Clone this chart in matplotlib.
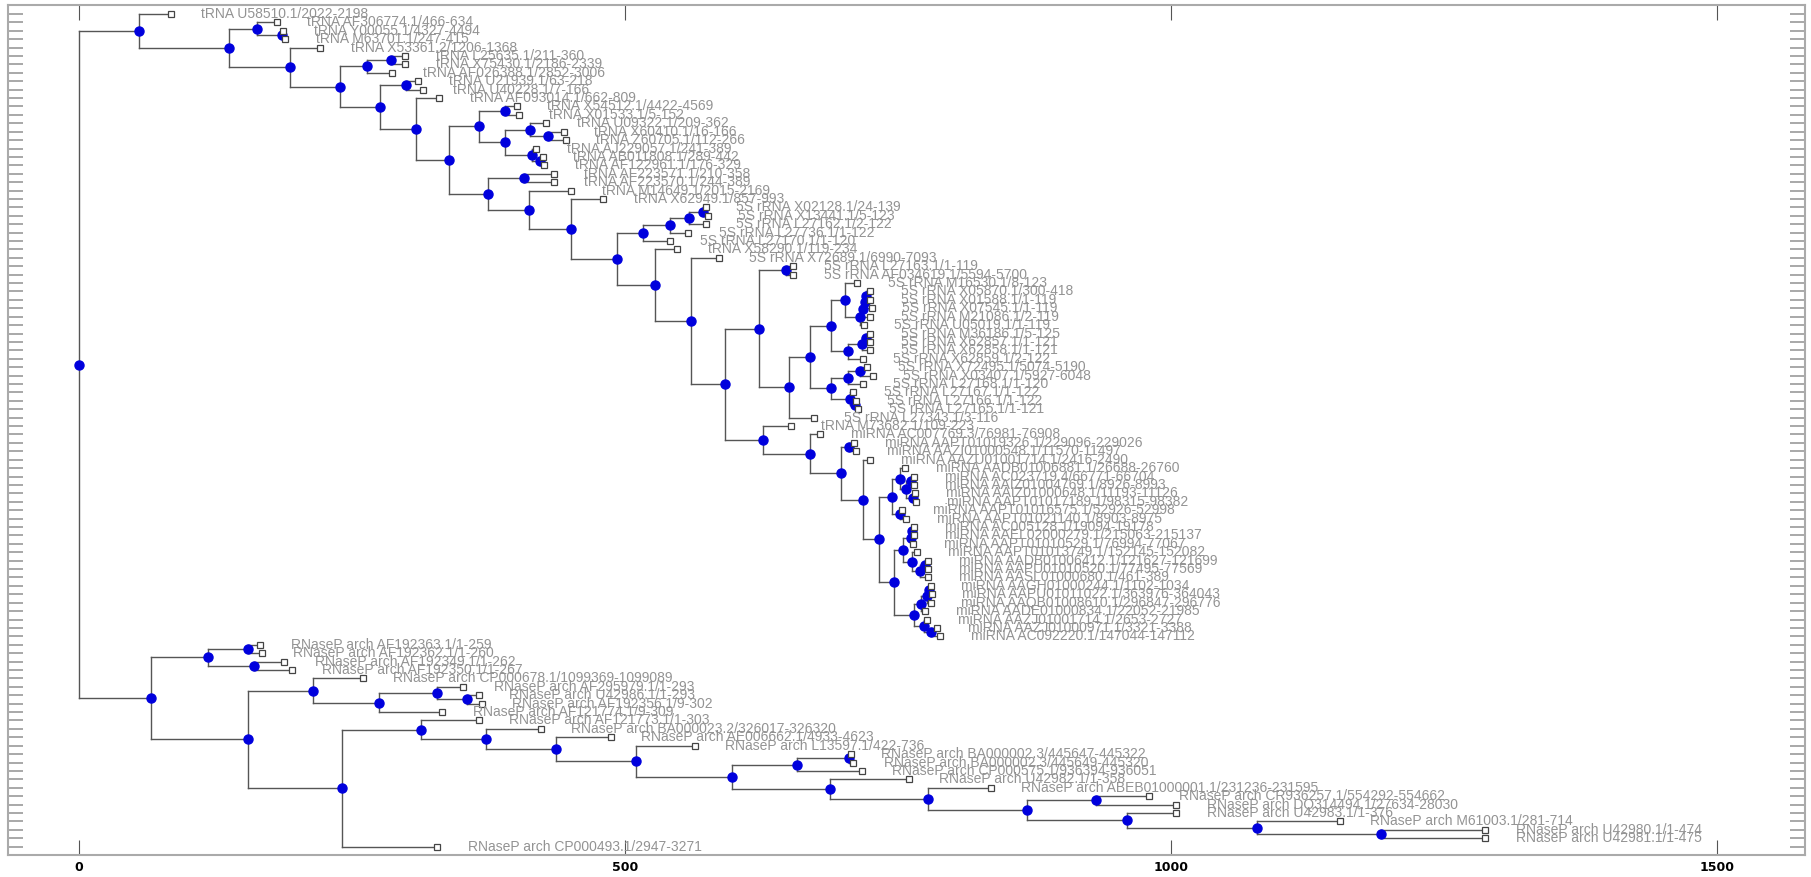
import matplotlib.pyplot as plt

# tips of the tree, top to bottom
leaf_names = [
    "tRNA U58510.1/2022-2198", "tRNA AF306774.1/466-634", "tRNA Y00055.1/4327-4494",
    "tRNA M63701.1/247-415", "tRNA X53361.2/1206-1368", "tRNA L25635.1/211-360",
    "tRNA X75430.1/2186-2339", "tRNA AF026388.1/2852-3006", "tRNA U21939.1/63-218",
    "tRNA U40228.1/7-166", "tRNA AF093014.1/662-809", "tRNA X54512.1/4422-4569",
    "tRNA X01533.1/5-152", "tRNA U09322.1/209-362", "tRNA X60410.1/16-166",
    "tRNA Z60705.1/112-266", "tRNA AJ229057.1/241-389", "tRNA AB011808.1/289-442",
    "tRNA AF122961.1/176-329", "tRNA AF223571.1/210-358", "tRNA AF223570.1/244-389",
    "tRNA M14649.1/2015-2169", "tRNA X62949.1/857-993",
    "5S rRNA X02128.1/24-139", "5S rRNA X13441.1/5-123", "5S rRNA L27162.1/2-122",
    "5S rRNA L27736.1/1-122", "5S rRNA L27170.1/1-120", "tRNA X58290.1/119-234",
    "5S rRNA X72689.1/6990-7093", "5S rRNA L27163.1/1-119", "5S rRNA AF034619.1/5594-5700",
    "5S rRNA M16530.1/8-123", "5S rRNA X05870.1/300-418", "5S rRNA X01588.1/1-119",
    "5S rRNA X07545.1/1-119", "5S rRNA M21086.1/2-119", "5S rRNA U05019.1/1-119",
    "5S rRNA M36186.1/5-125", "5S rRNA X62857.1/1-121", "5S rRNA X62858.1/1-121",
    "5S rRNA X62859.1/2-122", "5S rRNA X72495.1/5074-5190", "5S rRNA X03407.1/5927-6048",
    "5S rRNA L27168.1/1-120", "5S rRNA L27167.1/1-122", "5S rRNA L27166.1/1-122",
    "5S rRNA L27165.1/1-121", "5S rRNA L27343.1/3-116", "tRNA M73682.1/109-223",
    "miRNA AC007769.3/76981-76908", "miRNA AAPT01019326.1/229096-229026",
    "miRNA AAZI01000548.1/11570-11497", "miRNA AAZU01001714.1/2416-2490",
    "miRNA AADB01006881.1/26688-26760", "miRNA AC023719.4/66771-66704",
    "miRNA AAIZ01004769.1/8926-8993", "miRNA AAIZ01000648.1/11193-11126",
    "miRNA AAPT01017189.1/98315-98382", "miRNA AAPT01016575.1/52926-52998",
    "miRNA AAPT01021140.1/8903-8975", "miRNA AC005128.1/19094-19178",
    "miRNA AAEL02000279.1/215063-215137", "miRNA AAPT01010529.1/76994-77067",
    "miRNA AAPT01013749.1/152145-152082", "miRNA AADB01006412.1/121627-121699",
    "miRNA AAPU01010520.1/77495-77569", "miRNA AASL01000680.1/461-389",
    "miRNA AAGH01000244.1/1102-1034", "miRNA AAPU01011022.1/363976-364043",
    "miRNA AAQB01008610.1/296847-296776", "miRNA AADE01000834.1/22052-21985",
    "miRNA AAZJ01001714.1/2653-2727", "miRNA AAZJ01000971.1/3321-3388",
    "miRNA AC092220.1/147044-147112",
    "RNaseP arch AF192363.1/1-259", "RNaseP arch AF192362.1/1-260",
    "RNaseP arch AF192349.1/1-262", "RNaseP arch AF192350.1/1-267",
    "RNaseP arch CP000678.1/1099369-1099089", "RNaseP arch AF295979.1/1-293",
    "RNaseP arch U42986.1/1-293", "RNaseP arch AF192356.1/9-302",
    "RNaseP arch AF121774.1/9-309", "RNaseP arch AF121773.1/1-303",
    "RNaseP arch BA000023.2/326017-326320", "RNaseP arch AE006662.1/4933-4623",
    "RNaseP arch L13597.1/422-736", "RNaseP arch BA000002.3/445647-445322",
    "RNaseP arch BA000002.3/445649-445320", "RNaseP arch CP000575.1/936394-936051",
    "RNaseP arch U42982.1/1-358", "RNaseP arch ABEB01000001.1/231236-231595",
    "RNaseP arch CR936257.1/554292-554662", "RNaseP arch DQ314494.1/27634-28030",
    "RNaseP arch U42983.1/1-376", "RNaseP arch M61003.1/281-714",
    "RNaseP arch U42980.1/1-474", "RNaseP arch U42981.1/1-475",
    "RNaseP arch CP000493.1/2947-3271",
]
# x of each leaf box
leaf_x = [
    84, 181, 187, 189, 221, 299, 299, 287, 311, 315,      # 0-9
    330, 401, 403, 428, 444, 446, 419, 425, 426, 435,     # 10-19
    435, 451, 480, 574, 576, 574, 558, 541, 548, 586,     # 20-29
    654, 654, 713, 725, 725, 726, 725, 719, 725, 725,     # 30-39
    725, 718, 722, 727, 718, 709, 712, 714, 673, 652,     # 40-49
    679, 710, 712, 725, 757, 765, 765, 766, 767, 754,     # 50-59
    758, 765, 765, 764, 768, 778, 778, 778, 780, 781,     # 60-69
    780, 775, 777, 786, 789, 166, 168, 188, 195, 260,     # 70-79
    352, 366, 369, 333, 366, 423, 487, 564, 707, 709,     # 80-89
    717, 760, 835, 980, 1005, 1005, 1155, 1288, 1288, 328,  # 90-99
]

# internal nodes: name, x, children (leaf index or node name), top to bottom
node_names = [
    "root", "T", "B", "C", "E", "D", "F", "G", "I", "H",
    "J", "K", "L", "M", "M1", "M2", "M3", "M5", "M4", "M6",
    "N", "N1", "N2", "N3", "P", "Q", "Q1", "Q2", "Q3", "S",
    "U", "V", "W", "W1", "W2", "s1", "s2", "s3", "s4", "s5",
    "s6", "s7", "s8", "s9", "s15", "s10", "s11", "s12", "s13", "s14",
    "X", "Y", "Z", "Z1", "Z2", "Z3", "Z4", "Z6", "Z8", "Z9",
    "Z10", "Z7", "Z5", "Z11", "m1", "m3", "m2", "m4", "m5", "Z12",
    "m6", "m7", "m8", "m9", "m10",
    "R", "R1", "R1a", "R1b", "R2", "R2a", "R2b", "R2c", "R2d", "R3",
    "R3a", "R3b", "R3c", "R3d", "R3e", "R3f", "R3g", "R3h", "R3i", "R3j",
    "R3k", "R3l", "R3m", "R3n",
]
node_x = [
    0, 55, 137, 163, 186, 193, 239, 264, 286, 276,
    300, 309, 339, 366, 390, 390, 413, 430, 415, 422,
    375, 408, 412, 451, 493, 517, 541, 559, 572, 528,
    561, 592, 623, 648, 650, 670, 689, 702, 715, 718,
    720, 721, 704, 717, 721, 689, 704, 715, 706, 711,
    627, 670, 698, 705, 718, 733, 745, 752, 758, 762,
    764, 752, 747, 755, 762, 763, 763, 770, 775, 765,
    771, 777, 779, 774, 780,
    66, 118, 155, 160, 155, 214, 275, 328, 355, 241,
    313, 373, 437, 510, 598, 658, 705, 688, 778, 868,
    932, 960, 1079, 1193,
]
node_kids = [
    ["T", "R"], [0, "B"], ["C", "D"], [1, "E"], [2, 3],
    [4, "F"], ["G", "H"], ["I", 7], [5, 6], ["J", "K"],
    [8, 9], [10, "L"], ["M", "N"], ["M1", "M2"], [11, 12],
    ["M3", "M4"], [13, "M5"], [14, 15], [16, "M6"], [17, 18],
    ["N1", "N2"], [19, 20], [21, "N3"], [22, "P"], ["Q", "S"],
    ["Q1", 27], ["Q2", 26], ["Q3", 25], [23, 24], [28, "U"],
    [29, "V"], ["W", "X"], ["W1", "W2"], [30, 31], ["s1", 48],
    ["s2", "s10"], ["s3", "s8"], [32, "s4"], ["s5", 37], ["s6", 36],
    ["s7", 35], [33, 34], ["s9", 41], ["s15", 40], [38, 39],
    ["s11", "s13"], ["s12", 44], [42, 43], [45, "s14"], [46, 47],
    [49, "Y"], [50, "Z"], ["Z1", "Z2"], [51, 52], [53, "Z3"],
    ["Z4", "Z5"], ["Z6", "Z7"], [54, "Z8"], ["Z9", "Z10"], [55, 56],
    [57, 58], [59, 60], ["Z11", "Z12"], ["m1", "m2"], ["m3", 63],
    [61, 62], [64, "m4"], ["m5", 67], [65, 66], ["m6", "m9"],
    ["m7", 71], ["m8", 70], [68, 69], [72, "m10"], [73, 74],
    ["R1", "R2"], ["R1a", "R1b"], [75, 76], [77, 78], ["R2a", "R3"],
    [79, "R2b"], ["R2c", 83], [80, "R2d"], [81, 82], ["R3a", 99],
    [84, "R3b"], [85, "R3c"], [86, "R3d"], [87, "R3e"], ["R3f", "R3h"],
    ["R3g", 90], [88, 89], [91, "R3i"], [92, "R3j"], ["R3k", "R3l"],
    [93, 94], [95, "R3m"], [96, "R3n"], [97, 98],
]

pos = {n: (x, k) for n, x, k in zip(node_names, node_x, node_kids)}


def get_xy(c):
    if isinstance(c, int):
        return leaf_x[c], c
    x, kids = pos[c]
    ys = [get_xy(k)[1] for k in kids]
    return x, (ys[0] + ys[-1]) / 2


fig = plt.figure(figsize=(18.11, 8.77), dpi=100)
ax = fig.add_axes([0.0044, 0.025, 0.9923, 0.9693])

line_col = "#555555"
for n in node_names:
    x, kids = pos[n]
    ys = []
    for k in kids:
        kx, ky = get_xy(k)
        ys.append(ky)
        ax.plot([x, kx], [ky, ky], color=line_col, lw=1, zorder=1)
    ax.plot([x, x], [min(ys), max(ys)], color=line_col, lw=1, zorder=1)

nx = [get_xy(n)[0] for n in node_names]
ny = [get_xy(n)[1] for n in node_names]
ax.plot(nx, ny, "o", color="#0000dd", ms=6.5, mec="#0000dd", zorder=3, ls="none")
ax.plot(leaf_x, range(len(leaf_x)), "s", mfc="white", mec="#444444", ms=5,
        mew=0.9, zorder=3, ls="none")

for i, name in enumerate(leaf_names):
    ax.annotate(name, (leaf_x[i], i), xytext=(22, 0), textcoords="offset points",
                va="center", ha="left", fontsize=10, color="#939393",
                family="Liberation Sans")

ax.set_xlim(-65, 1581)
ax.set_ylim(100.0, -1.06)
ax.set_xticks([0, 500, 1000, 1500])
ax.set_yticks(range(len(leaf_names)))
ax.tick_params(axis="x", direction="in", length=11, top=True, bottom=True,
               color="#555555", labelsize=9, pad=4)
ax.tick_params(axis="y", direction="in", length=11, left=True, right=True,
               labelleft=False, color="#999999", width=1.2)
for lab in ax.get_xticklabels():
    lab.set_fontweight("bold")
for s in ax.spines.values():
    s.set_color("#aaaaaa")
    s.set_linewidth(1.5)

fig.savefig("out.png", dpi=100)
